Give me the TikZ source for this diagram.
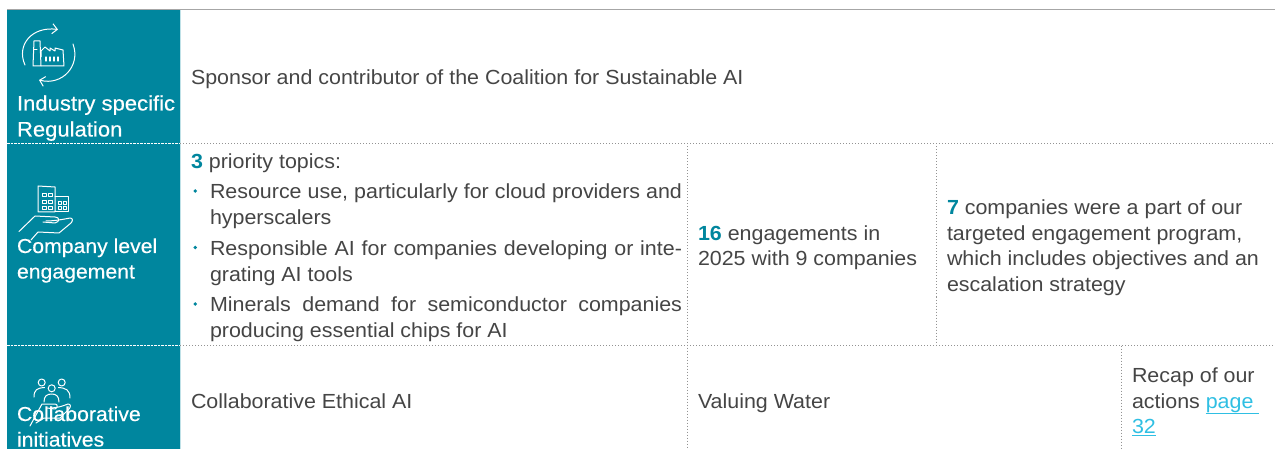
\documentclass[tikz,border=0pt]{standalone}
\usepackage{fontspec}
\setmainfont[FakeStretch=1.05]{Liberation Sans}
\newfontfamily\sidefont[FakeStretch=1.05,FakeBold=0.35]{Liberation Sans}
\usetikzlibrary{arrows.meta}
\definecolor{teal}{HTML}{00869E}
\definecolor{body}{HTML}{454545}
\definecolor{linkc}{HTML}{2FBFE3}
\newcommand{\num}[1]{{\bfseries\color{teal}#1}}
\newcommand{\lnk}[1]{\color{linkc}\underline{#1}}
\tikzset{
  x=1pt,y=-1pt,
  txt/.style={anchor=base west,inner sep=0pt,outer sep=0pt,text=body,font=\fontsize{20.4}{25}\selectfont},
  side/.style={anchor=base west,inner sep=0pt,outer sep=0pt,text=white,font=\sidefont\fontsize{21}{25}\selectfont},
  sidenarrow/.style={side,font=\sidefont\fontsize{20.2}{25}\selectfont},
  rule/.style={draw=gray!85,line width=0.8pt,dash pattern=on 1pt off 2pt},
  wrule/.style={draw=white,line width=0.8pt,dash pattern=on 2.5pt off 1pt},
  ico/.style={draw=white,line width=1pt,line cap=round,line join=round},
  icoarrow/.style={ico,-{Straight Barb[length=5pt,width=10pt]}},
}
\begin{document}
\begin{tikzpicture}
\useasboundingbox (0,0) rectangle (1275,449);
\fill[white] (0,0) rectangle (1275,449);
% panel
\fill[teal] (7,10) rectangle (180,449);
\fill[teal!25] (180,10) rectangle (181,449);
\draw[gray!70,line width=1pt] (7,9.5) -- (1275,9.5);
% rules
\draw[rule] (180,143.5) -- (1275,143.5);
\draw[rule] (180,345.5) -- (1275,345.5);
\draw[wrule] (7,143.5) -- (180,143.5);
\draw[wrule] (7,345.5) -- (180,345.5);
\draw[rule] (687.5,143.5) -- (687.5,449);
\draw[rule] (936.5,143.5) -- (936.5,345.5);
\draw[rule] (1121.5,345.5) -- (1121.5,449);
% icon 1
\draw[icoarrow] (25,65) .. controls (16,45) and (32,26) .. (58,29.5);
\draw[icoarrow] (73,44) .. controls (81,66) and (62,86) .. (39,80);
\draw[ico] (33,66) -- (34,41) -- (40,41) -- (41,66) -- cycle;
\draw[ico] (33.5,50) -- (37,50);
\draw[ico] (41,57) -- (41,51) -- (45,47) -- (50,51) -- (50,48) -- (55,51) -- (55,48) -- (63,50) -- (64,66) -- (41,66);
\foreach \xx in {46,50,54,58} \draw[ico,line width=1.2pt] (\xx,57) -- (\xx,61);
% icon 2
\draw[ico] (38,186) -- (55,187) -- (55,212) -- (38,212) -- cycle;
\draw[ico] (55,197) -- (68,197) -- (68,212) -- (55,212);
\foreach \xx in {42,48} \foreach \yy in {193,200,206} \draw[ico,line width=0.8pt] (\xx,\yy) rectangle +(4,3.5);
\foreach \xx in {58,63} \foreach \yy in {201,206} \draw[ico,line width=0.8pt] (\xx,\yy) rectangle +(3.5,3);
\draw[ico] (19,231.5) -- (35,216) -- (55,217) .. controls (60,217) and (60,222) .. (55,223) -- (43,222);
\draw[ico] (46,221) .. controls (55,221) and (65,219) .. (70,218) .. controls (73,218) and (73,221) .. (71,223) -- (59,233) -- (38,232) -- (31,240);
% icon 3
\draw[ico] (41.7,382.5) circle (3.5);
\draw[ico] (51.7,388.3) circle (3.5);
\draw[ico] (61.7,382.5) circle (3.5);
\draw[ico] (34,397) .. controls (34,390) and (37,388) .. (44.5,387.5);
\draw[ico] (58.5,387.5) .. controls (66,388) and (70,390) .. (70,398);
\draw[ico] (44,402) .. controls (44,396) and (47,394) .. (51.7,394) .. controls (56,394) and (59,396) .. (59,402);
\draw[ico] (30,426) -- (42,404) -- (55,404) .. controls (58,404) and (58,408) .. (55,409) -- (47,408);
\draw[ico] (50,408) .. controls (57,408) and (63,406) .. (68,404) .. controls (71,404) and (71,407) .. (69,409) -- (60,418) -- (44,418) -- (36,423);
% side labels
\node[side] (s1) at (17,110.5) {Industry specific};
\node[side] (s2) at (17,136.5) {Regulation};
\node[sidenarrow] (s3) at (17,253) {Company level};
\node[sidenarrow] (s4) at (17,278.5) {engagement};
\node[sidenarrow] (s5) at (17,421) {Collaborative};
\node[sidenarrow] (s6) at (17,446.5) {initiatives};
% row 1
\node[txt] (t1) at (191,84.7) {Sponsor and contributor of the Coalition for Sustainable AI};
% row 2 col 1
\node[txt] (t2) at (191,168.7) {\num{3} priority topics:};
\foreach \yy in {191,247.5,304} \fill[teal] (195.3,\yy) circle (1.9);
\node[txt] (t3) at (210,199) {\hbox to 472pt{Resource use, particularly for cloud providers and}};
\node[txt] (t4) at (210,224.5) {hyperscalers};
\node[txt] (t5) at (210,255.5) {\hbox to 472pt{Responsible AI for companies developing or inte-}};
\node[txt] (t6) at (210,281) {grating AI tools};
\node[txt] (t7) at (210,312) {\hbox to 472pt{Minerals demand for semiconductor companies}};
\node[txt] (t8) at (210,337.5) {producing essential chips for AI};
% row 2 col 2
\node[txt] (t9) at (698,240.5) {\num{16} engagements in};
\node[txt] (t10) at (698,265.5) {2025 with 9 companies};
% row 2 col 3
\node[txt] (t11) at (947,214.5) {\num{7} companies were a part of our};
\node[txt] (t12) at (947,240.5) {targeted engagement program,};
\node[txt] (t13) at (947,265.5) {which includes objectives and an};
\node[txt] (t14) at (947,291) {escalation strategy};
% row 3
\node[txt] (t15) at (191,408) {Collaborative Ethical AI};
\node[txt] (t16) at (698,408) {Valuing Water};
\node[txt] (t17) at (1132,382) {Recap of our};
\node[txt] (t18) at (1132,408) {actions \lnk{page\ }};
\node[txt] (t19) at (1132,433.5) {\lnk{32}};
\end{tikzpicture}
\end{document}
